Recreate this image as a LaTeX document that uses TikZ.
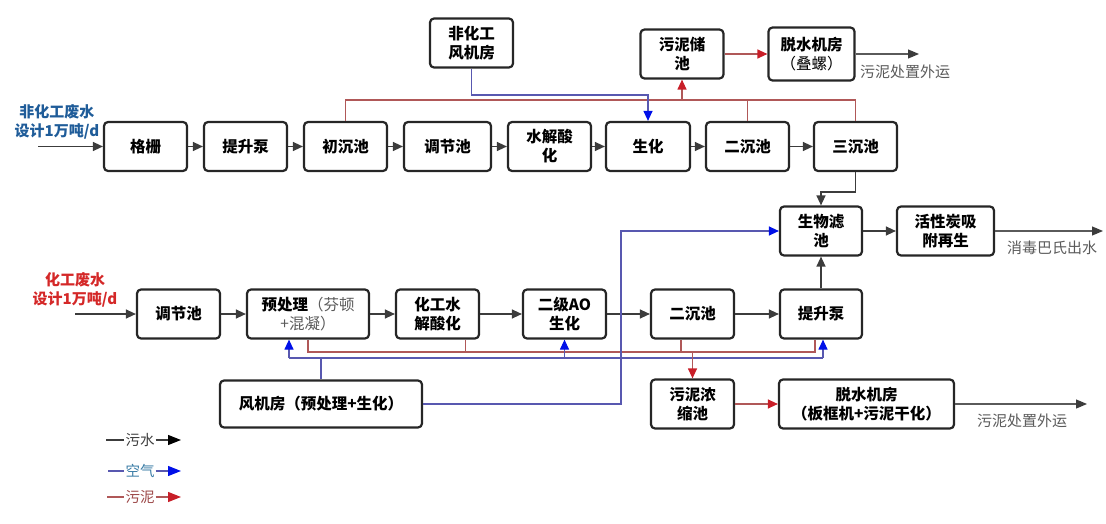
\documentclass[tikz,border=0pt]{standalone}
\usepackage{fontspec}
\setmainfont{Noto Sans CJK SC}
\usetikzlibrary{arrows.meta,calc}

\definecolor{flowgray}{HTML}{3C3C3C}
\definecolor{outgray}{HTML}{5A5A5A}
\definecolor{airline}{HTML}{5858B0}
\definecolor{airtip}{HTML}{0010E8}
\definecolor{sludgeline}{HTML}{B05858}
\definecolor{sludgetip}{HTML}{C81E28}
\definecolor{inblue}{HTML}{1F5C99}
\definecolor{inred}{HTML}{D42828}
\definecolor{legair}{HTML}{3A7CA5}
\definecolor{legsludge}{HTML}{9C4848}

\begin{document}
\begin{tikzpicture}[x=1pt, y=-1pt,
    box/.style={draw=black!85, line width=2.2pt, rounded corners=4pt, fill=white,
      minimum width=83pt, minimum height=49pt, align=center, inner sep=2pt,
      font=\fontsize{15.5}{19}\selectfont\bfseries},
    water/.style={draw=flowgray, line width=1.3pt, -{Triangle[length=10pt,width=9pt,color=flowgray]}},
    outflow/.style={draw=outgray, line width=1.2pt, -{Triangle[length=11pt,width=9pt,color=flowgray]}},
    air/.style={draw=airline, line width=1.2pt},
    airarr/.style={air, -{Triangle[length=10pt,width=9pt,color=airtip]}},
    sludge/.style={draw=sludgeline, line width=1.2pt},
    sludgearr/.style={sludge, -{Triangle[length=10pt,width=9pt,color=sludgetip]}},
    intext/.style={align=center, font=\fontsize{15}{19}\selectfont\bfseries},
    outtext/.style={text=outgray, font=\fontsize{15}{18}\selectfont},
    legtext/.style={inner sep=1pt, font=\fontsize{14.5}{17}\selectfont}]
\useasboundingbox (0,0) rectangle (1106,524);

% non-chemical line
\node[intext, text=inblue] (in1txt) at (57,122) {非化工废水\\设计1万吨/d};
\coordinate (in1) at (38,146.5);
\node[box] (t1) at (145.5,146.5) {格栅};
\node[box] (t2) at (245.5,146.5) {提升泵};
\node[box] (t3) at (345.5,146.5) {初沉池};
\node[box, minimum width=87pt] (t4) at (447.5,146.5) {调节池};
\node[box] (t5) at (549.5,146.5) {水解酸\\化};
\node[box, minimum width=84pt] (t6) at (648,146.5) {生化};
\node[box] (t7) at (747.5,146.5) {二沉池};
\node[box] (t8) at (855.5,146.5) {三沉池};

\node[box] (fj) at (471.5,43) {非化工\\风机房};
\node[box] (wc) at (682,54) {污泥储\\池};
\node[box, minimum width=86pt, minimum height=53pt] (ts1) at (811.5,54) {脱水机房\\{\mdseries（叠螺）}};
\coordinate (out1) at (919,54);
\node[outtext] (out1txt) at (905,72) {污泥处置外运};

\draw[water] (in1) -- (t1);
\draw[water] (t1) -- (t2);
\draw[water] (t2) -- (t3);
\draw[water] (t3) -- (t4);
\draw[water] (t4) -- (t5);
\draw[water] (t5) -- (t6);
\draw[water] (t6) -- (t7);
\draw[water] (t7) -- (t8);

\coordinate (rt) at (855.5,100);
\draw[sludge] (t3.north) |- (rt) -- (t8.north);
\draw[sludge] (t7.north) -- (t7.north |- rt);
\draw[sludgearr] (wc.south |- rt) -- (wc.south);
\draw[sludgearr] (wc) -- (ts1);
\draw[outflow] (ts1.east |- out1) -- (out1);

\coordinate (bt) at (648,95);
\draw[airarr] (fj.south) |- (bt) -- (t6.north);

% chemical line
\node[intext, text=inred] (in2txt) at (75,290) {化工废水\\设计1万吨/d};
\coordinate (in2) at (75,314);
\node[box] (c1) at (178.5,314) {调节池};
\node[box, minimum width=122pt] (c2) at (308,314) {预处理{\mdseries\color{outgray}（芬顿}\\{\mdseries\color{outgray}+混凝）}};
\node[box] (c3) at (437.5,314) {化工水\\解酸化};
\node[box] (c4) at (564.5,314) {二级AO\\生化};
\node[box] (c5) at (692.5,314) {二沉池};
\node[box, minimum width=82pt] (c6) at (821,314) {提升泵};
\node[box, minimum width=82pt] (bl) at (821,231) {生物滤\\池};
\node[box, minimum width=97pt] (hx) at (945.5,231) {活性炭吸\\附再生};
\coordinate (out2) at (1103,231);
\node[outtext] (out2txt) at (1052,248) {消毒巴氏出水};

\node[box, minimum width=202pt, minimum height=47pt] (fjb) at (321,404) {风机房（预处理+生化）};
\node[box] (nc) at (692.5,404) {污泥浓\\缩池};
\node[box, minimum width=175pt] (ts2) at (866.5,404) {脱水机房\\（板框机+污泥干化）};
\coordinate (out3) at (1087,404);
\node[outtext] (out3txt) at (1022,421) {污泥处置外运};

\draw[water] (in2) -- (c1);
\draw[water] (c1) -- (c2);
\draw[water] (c2) -- (c3);
\draw[water] (c3) -- (c4);
\draw[water] (c4) -- (c5);
\draw[water] (c5) -- (c6);
\draw[water] (c6) -- (bl);
\draw[water] (bl) -- (hx);
\draw[outflow] (hx.east |- out2) -- (out2);

\coordinate (tb) at (821,192);
\draw[water] (t8.south) |- (tb) -- (bl.north);

\coordinate (r1) at (308,352);
\coordinate (r2) at (815,352);
\draw[sludge] (c2.south) -- (r1) -- (r2) -- (r2 |- c6.south);
\draw[sludge] ([xshift=-15pt]c3.south east) -- ([xshift=-15pt]c3.south east |- r1);
\draw[sludge] ([xshift=-11.5pt]c5.south) -- ([xshift=-11.5pt]c5.south |- r1);

\coordinate (b1) at (289,358);
\coordinate (b2) at (823,358);
\draw[air] (b1) -- (b2);
\draw[air] (fjb.north) -- (fjb.north |- b1);
\draw[airarr] (b1) -- (b1 |- c2.south);
\draw[airarr] (c4.south |- b1) -- (c4.south);
\draw[airarr] (b2) -- (b2 |- c6.south);
\coordinate (b3) at (621,231);
\draw[airarr] (fjb.east) -| (b3) -- (bl.west);

\draw[sludgearr] (nc.north |- r1) -- (nc.north);
\draw[sludgearr] (nc) -- (ts2);
\draw[outflow] (ts2.east |- out3) -- (out3);

% legend
\node[legtext, text=flowgray] (lw) at (140,440) {污水};
\coordinate (lw0) at (106,440);
\coordinate (lw1) at (181,440);
\draw[draw=flowgray, line width=1.2pt] (lw0) -- (lw.west);
\draw[draw=flowgray, line width=1.2pt, -{Triangle[length=13pt,width=10pt,color=black]}] (lw.east) -- (lw1);

\node[legtext, text=legair] (la) at (140,471) {空气};
\coordinate (la0) at (108,471);
\coordinate (la1) at (181,471);
\draw[air] (la0) -- (la.west);
\draw[air, -{Triangle[length=13pt,width=10pt,color=airtip]}] (la.east) -- (la1);

\node[legtext, text=legsludge] (ls) at (140,497) {污泥};
\coordinate (ls0) at (107,497);
\coordinate (ls1) at (181,497);
\draw[sludge] (ls0) -- (ls.west);
\draw[sludge, -{Triangle[length=13pt,width=10pt,color=sludgetip]}] (ls.east) -- (ls1);
\end{tikzpicture}
\end{document}
